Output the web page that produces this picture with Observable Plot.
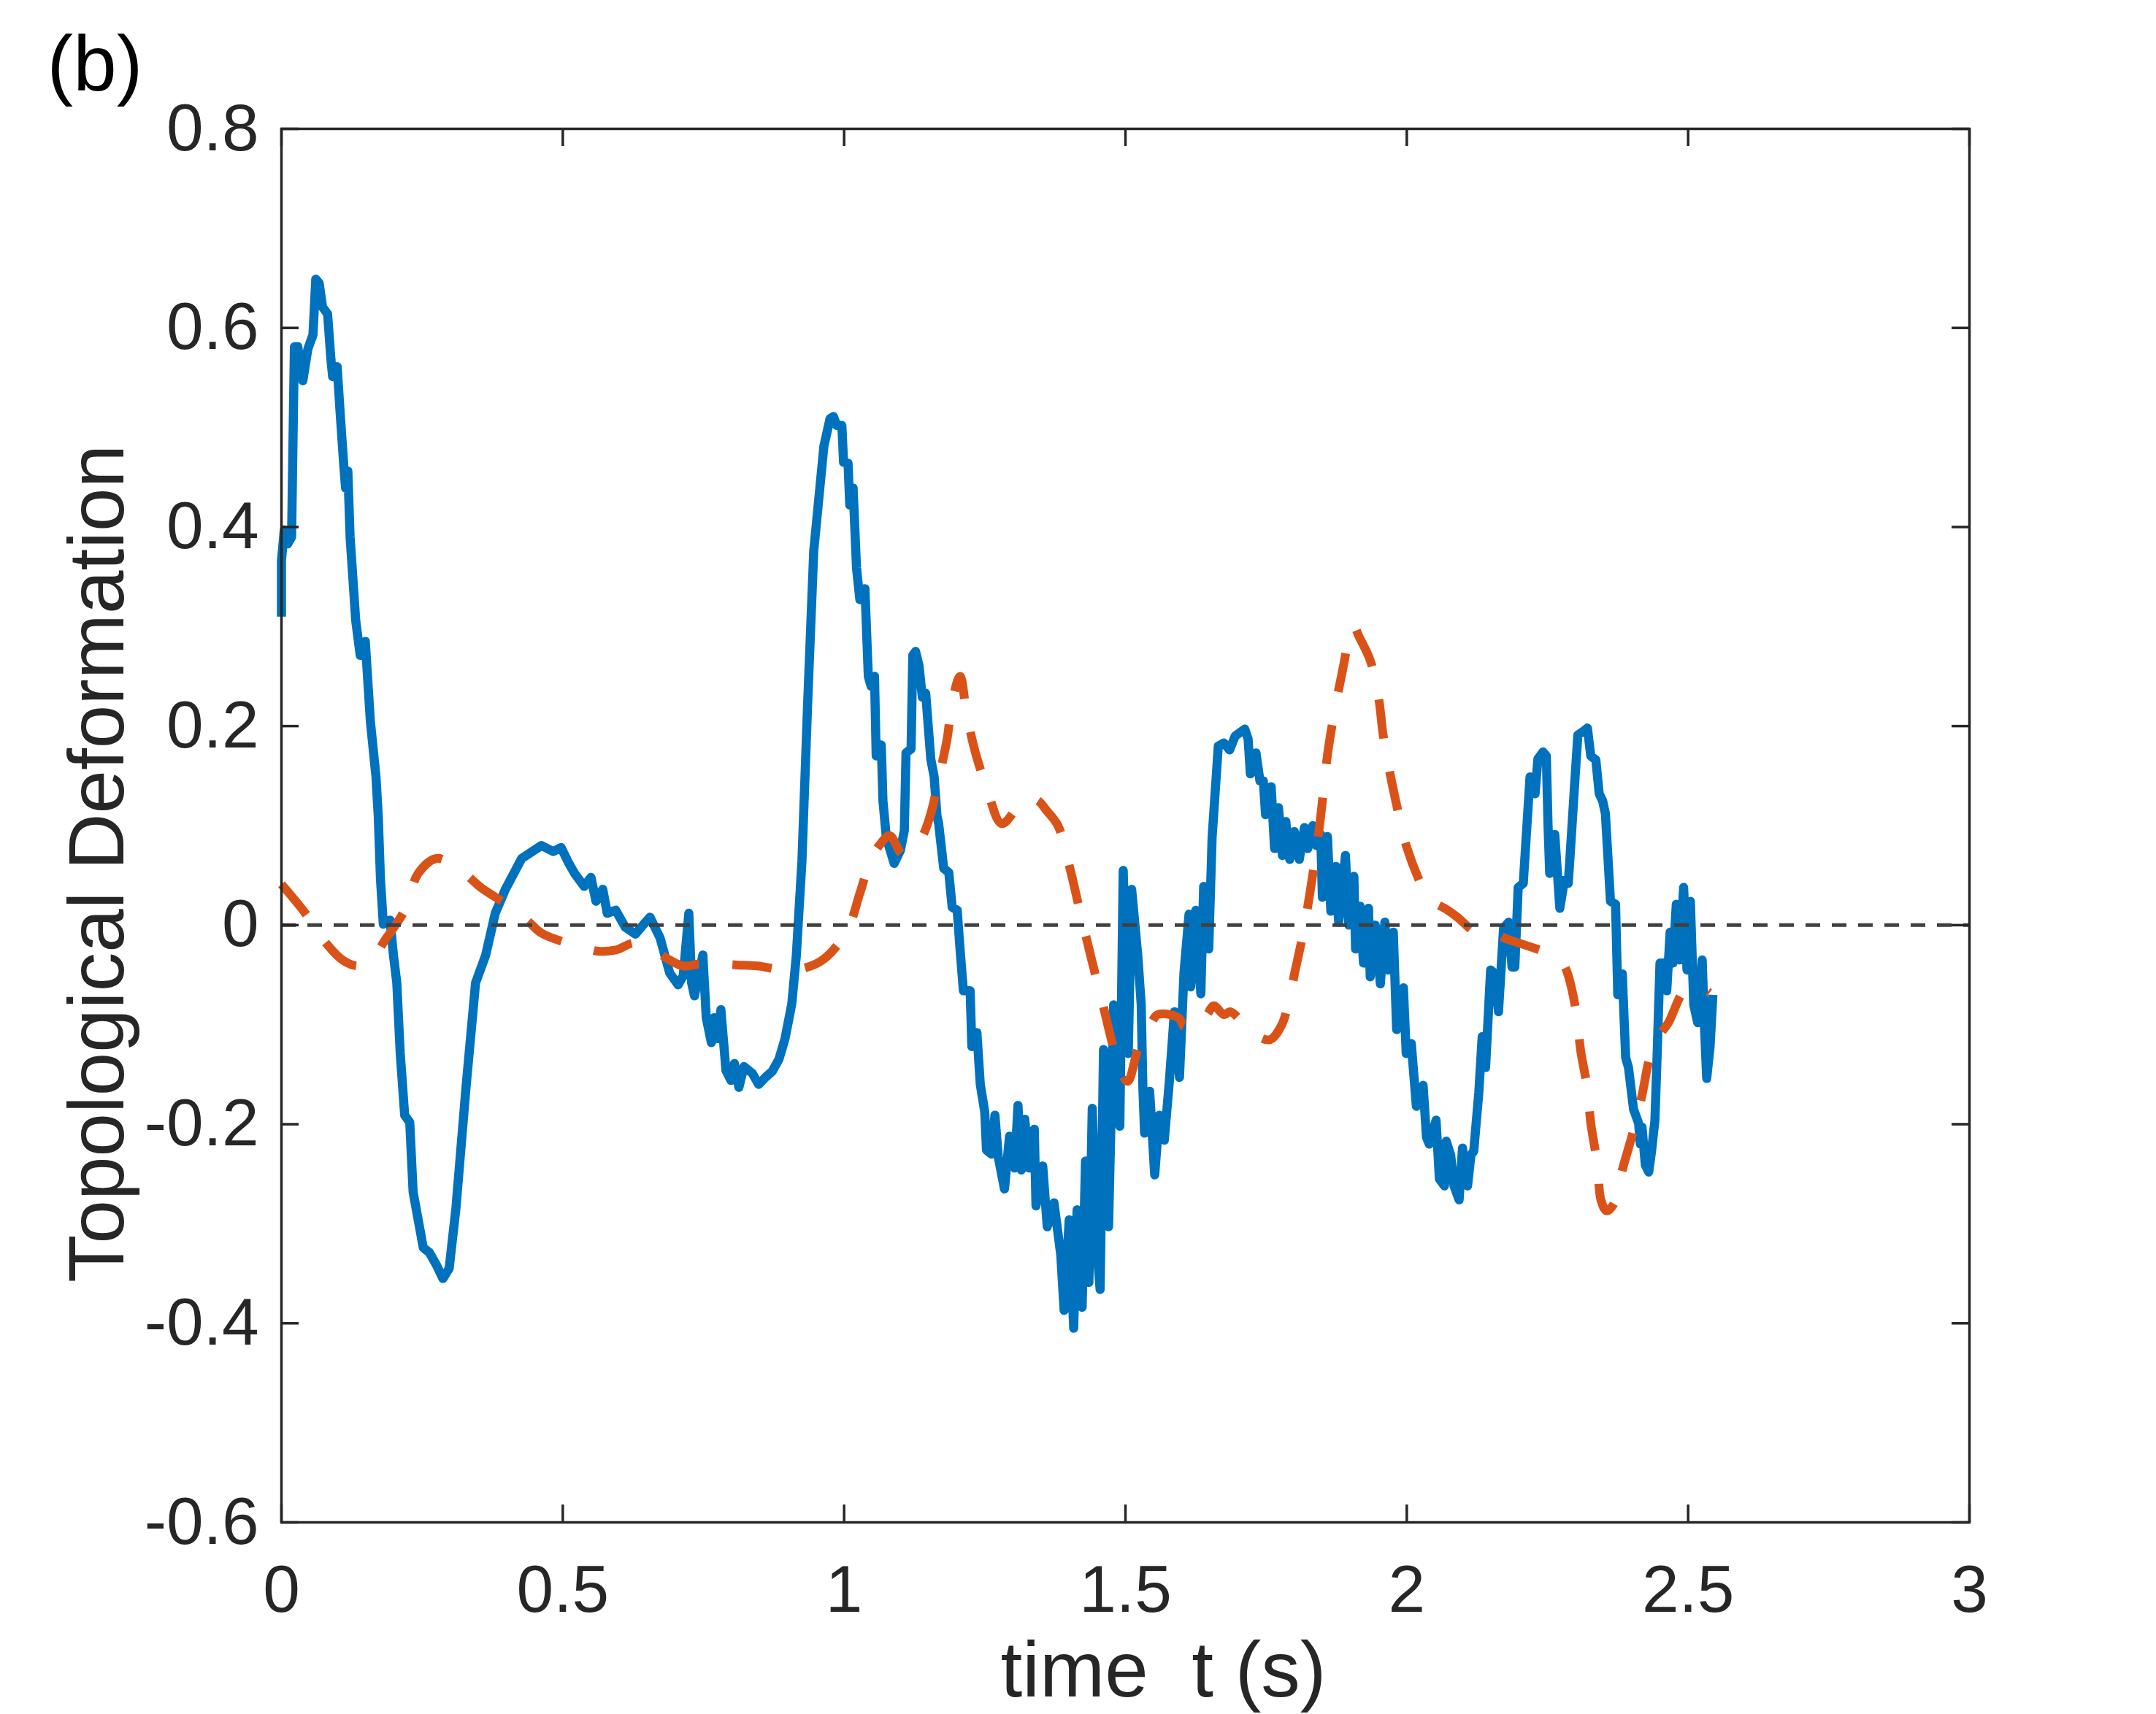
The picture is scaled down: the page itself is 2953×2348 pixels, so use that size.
<!DOCTYPE html>
<html>
<head>
<meta charset="utf-8">
<script src="https://cdn.jsdelivr.net/npm/d3@7"></script>
<script src="https://cdn.jsdelivr.net/npm/@observablehq/plot@0.6"></script>
<style>
  html, body { margin: 0; padding: 0; background: #ffffff; }
  #chart { width: 2953px; height: 2348px; }
</style>
</head>
<body>
<div id="chart"></div>
<script>
// ---- tick values and labels ----
const xTicks = [0, 0.5, 1, 1.5, 2, 2.5, 3];
const xTickLabels = ["0", "0.5", "1", "1.5", "2", "2.5", "3"];
const yTicks = [-0.6, -0.4, -0.2, 0, 0.2, 0.4, 0.6, 0.8];
const yTickLabels = ["-0.6", "-0.4", "-0.2", "0", "0.2", "0.4", "0.6", "0.8"];

// ---- series 1 (blue, solid) ----
const blueT = [
  0, 0, 0.005, 0.011, 0.018, 0.023, 0.029, 0.038, 0.047, 0.056, 0.061, 0.067, 0.073, 0.082, 0.088, 0.091,
  0.099, 0.105, 0.111, 0.114, 0.118, 0.122, 0.132, 0.140, 0.149, 0.158, 0.168, 0.172, 0.176, 0.181, 0.193,
  0.199, 0.205, 0.211, 0.219, 0.228, 0.234, 0.252, 0.263, 0.275, 0.287, 0.298, 0.310, 0.328, 0.345, 0.363,
  0.380, 0.398, 0.427, 0.462, 0.483, 0.497, 0.509, 0.521, 0.538, 0.550, 0.559, 0.571, 0.579, 0.594, 0.611,
  0.629, 0.644, 0.655, 0.673, 0.690, 0.705, 0.714, 0.724, 0.729, 0.734, 0.749, 0.755, 0.764, 0.769, 0.775,
  0.781, 0.790, 0.799, 0.805, 0.813, 0.822, 0.837, 0.848, 0.860, 0.872, 0.884, 0.895, 0.907, 0.915, 0.925,
  0.935, 0.946, 0.964, 0.975, 0.981, 0.987, 0.996, 0.999, 1.007, 1.010, 1.016, 1.022, 1.028, 1.037, 1.043,
  1.048, 1.054, 1.057, 1.066, 1.069, 1.075, 1.089, 1.100, 1.107, 1.110, 1.119, 1.122, 1.127, 1.133, 1.139,
  1.145, 1.154, 1.160, 1.165, 1.168, 1.177, 1.186, 1.192, 1.201, 1.206, 1.212, 1.224, 1.227, 1.236, 1.242,
  1.250, 1.253, 1.262, 1.268, 1.274, 1.285, 1.294, 1.303, 1.309, 1.315, 1.321, 1.329, 1.338, 1.341, 1.353,
  1.361, 1.373, 1.385, 1.391, 1.400, 1.408, 1.414, 1.423, 1.429, 1.435, 1.441, 1.449, 1.455, 1.461, 1.470,
  1.479, 1.490, 1.496, 1.505, 1.511, 1.522, 1.528, 1.531, 1.534, 1.543, 1.552, 1.560, 1.569, 1.578, 1.587,
  1.596, 1.604, 1.613, 1.616, 1.625, 1.634, 1.639, 1.648, 1.654, 1.665, 1.675, 1.685, 1.695, 1.712, 1.718,
  1.722, 1.732, 1.739, 1.745, 1.749, 1.759, 1.765, 1.772, 1.779, 1.785, 1.792, 1.800, 1.809, 1.818, 1.824,
  1.833, 1.839, 1.847, 1.850, 1.859, 1.865, 1.874, 1.879, 1.891, 1.897, 1.906, 1.909, 1.917, 1.923, 1.932,
  1.935, 1.944, 1.953, 1.961, 1.967, 1.976, 1.982, 1.994, 1.999, 2.008, 2.017, 2.029, 2.035, 2.040, 2.052,
  2.058, 2.067, 2.070, 2.078, 2.084, 2.093, 2.099, 2.108, 2.114, 2.119, 2.128, 2.134, 2.140, 2.149, 2.157,
  2.163, 2.172, 2.181, 2.187, 2.192, 2.198, 2.207, 2.219, 2.228, 2.233, 2.242, 2.248, 2.251, 2.254, 2.263,
  2.272, 2.280, 2.287, 2.293, 2.298, 2.304, 2.312, 2.321, 2.327, 2.336, 2.342, 2.348, 2.353, 2.362, 2.371,
  2.375, 2.383, 2.389, 2.394, 2.403, 2.412, 2.415, 2.418, 2.424, 2.430, 2.435, 2.441, 2.445, 2.450, 2.456,
  2.462, 2.468, 2.473, 2.479, 2.485, 2.492, 2.498, 2.504, 2.510, 2.517, 2.521, 2.525, 2.529, 2.533, 2.539,
  2.544
];
const blueV = [
  0.310, 0.366, 0.397, 0.383, 0.390, 0.581, 0.581, 0.547, 0.579, 0.593, 0.649, 0.645, 0.621, 0.614, 0.568, 0.551,
  0.561, 0.509, 0.460, 0.439, 0.456, 0.390, 0.306, 0.271, 0.285, 0.205, 0.149, 0.110, 0.046, 0.001, 0.005,
  -0.030, -0.058, -0.128, -0.191, -0.198, -0.268, -0.324, -0.329, -0.341, -0.355, -0.345, -0.285, -0.163, -0.058, -0.030,
  0.012, 0.036, 0.067, 0.080, 0.074, 0.078, 0.064, 0.052, 0.039, 0.048, 0.024, 0.036, 0.012, 0.015, -0.002,
  -0.009, 0.001, 0.008, -0.013, -0.048, -0.060, -0.051, 0.012, -0.058, -0.071, -0.030, -0.093, -0.118, -0.093, -0.114,
  -0.085, -0.146, -0.156, -0.139, -0.163, -0.142, -0.149, -0.160, -0.153, -0.147, -0.135, -0.114, -0.079, -0.031, 0.064,
  0.220, 0.376, 0.481, 0.509, 0.511, 0.502, 0.502, 0.465, 0.464, 0.422, 0.439, 0.359, 0.327, 0.338, 0.250,
  0.240, 0.250, 0.170, 0.181, 0.125, 0.088, 0.062, 0.075, 0.095, 0.173, 0.177, 0.271, 0.275, 0.261, 0.229,
  0.233, 0.167, 0.149, 0.110, 0.102, 0.057, 0.053, 0.018, 0.015, -0.024, -0.066, -0.066, -0.122, -0.108, -0.160,
  -0.188, -0.226, -0.230, -0.191, -0.233, -0.265, -0.212, -0.244, -0.181, -0.246, -0.195, -0.244, -0.205, -0.282, -0.242,
  -0.303, -0.279, -0.331, -0.387, -0.296, -0.405, -0.286, -0.384, -0.237, -0.359, -0.184, -0.324, -0.366, -0.125, -0.303,
  -0.080, -0.202, 0.055, -0.129, 0.036, -0.031, -0.080, -0.164, -0.209, -0.167, -0.251, -0.191, -0.216, -0.157, -0.087,
  -0.153, -0.048, 0.011, -0.062, 0.015, -0.069, 0.039, -0.024, 0.088, 0.180, 0.183, 0.176, 0.190, 0.197, 0.187,
  0.152, 0.173, 0.145, 0.145, 0.111, 0.139, 0.077, 0.118, 0.070, 0.104, 0.066, 0.094, 0.066, 0.098, 0.077,
  0.100, 0.080, 0.091, 0.028, 0.089, 0.014, 0.059, 0.003, 0.070, 0.000, 0.049, -0.024, 0.019, -0.038, 0.017,
  -0.052, 0.000, -0.059, 0.003, -0.045, -0.007, -0.105, -0.063, -0.129, -0.119, -0.182, -0.161, -0.213, -0.220, -0.196,
  -0.255, -0.262, -0.217, -0.231, -0.262, -0.276, -0.224, -0.262, -0.231, -0.227, -0.168, -0.112, -0.143, -0.045, -0.049,
  -0.087, -0.003, 0.003, -0.042, -0.042, 0.038, 0.042, 0.149, 0.132, 0.167, 0.174, 0.170, 0.101, 0.052, 0.091,
  0.017, 0.045, 0.042, 0.094, 0.139, 0.191, 0.194, 0.198, 0.170, 0.166, 0.132, 0.125, 0.112, 0.024, 0.021,
  -0.070, -0.049, -0.133, -0.143, -0.185, -0.199, -0.220, -0.203, -0.241, -0.248, -0.227, -0.196, -0.129, -0.038, -0.038,
  -0.066, -0.007, -0.038, 0.021, -0.035, 0.038, -0.045, 0.024, -0.080, -0.098, -0.066, -0.035, -0.101, -0.154, -0.122,
  -0.070
];

// ---- series 2 (orange, dashed) ----
const orangeT = [
  0, 0.041, 0.082, 0.111, 0.138, 0.160, 0.184, 0.219, 0.243, 0.275, 0.301, 0.330, 0.354, 0.410, 0.440, 0.462,
  0.497, 0.527, 0.560, 0.594, 0.626, 0.655, 0.690, 0.714, 0.743, 0.778, 0.810, 0.846, 0.895, 0.930, 0.964,
  1.005, 1.028, 1.048, 1.065, 1.081, 1.104, 1.124, 1.140, 1.154, 1.168, 1.183, 1.192, 1.206, 1.218, 1.233,
  1.253, 1.280, 1.308, 1.328, 1.345, 1.360, 1.380, 1.400, 1.420, 1.440, 1.460, 1.475, 1.490, 1.504, 1.522,
  1.540, 1.557, 1.580, 1.596, 1.604, 1.616, 1.631, 1.645, 1.657, 1.675, 1.686, 1.704, 1.730, 1.757, 1.777,
  1.789, 1.800, 1.815, 1.830, 1.845, 1.860, 1.875, 1.888, 1.900, 1.906, 1.915, 1.935, 1.950, 1.958, 1.970,
  1.985, 1.999, 2.026, 2.040, 2.070, 2.090, 2.116, 2.134, 2.157, 2.178, 2.210, 2.242, 2.263, 2.277, 2.286,
  2.301, 2.309, 2.321, 2.327, 2.339, 2.345, 2.355, 2.368, 2.383, 2.403, 2.418, 2.432, 2.450, 2.465, 2.494,
  2.514, 2.538
];
const orangeV = [
  0.041, 0.013, -0.020, -0.036, -0.041, -0.035, -0.015, 0.015, 0.052, 0.067, 0.062, 0.050, 0.038, 0.017, 0.003, -0.008,
  -0.016, -0.020, -0.026, -0.025, -0.018, -0.023, -0.035, -0.041, -0.039, -0.039, -0.040, -0.041, -0.045, -0.043, -0.034,
  -0.006, 0.032, 0.067, 0.082, 0.090, 0.071, 0.076, 0.090, 0.112, 0.147, 0.187, 0.224, 0.250, 0.212, 0.174,
  0.139, 0.102, 0.118, 0.128, 0.125, 0.115, 0.100, 0.060, 0.012, -0.035, -0.080, -0.115, -0.145, -0.157, -0.125,
  -0.105, -0.090, -0.090, -0.094, -0.102, -0.095, -0.099, -0.090, -0.081, -0.090, -0.087, -0.095, -0.110, -0.115, -0.101,
  -0.080, -0.050, -0.010, 0.040, 0.100, 0.175, 0.225, 0.262, 0.296, 0.300, 0.290, 0.266, 0.228, 0.191, 0.153,
  0.113, 0.080, 0.040, 0.026, 0.016, 0.008, -0.005, -0.010, -0.009, -0.014, -0.020, -0.026, -0.030, -0.038, -0.049,
  -0.087, -0.126, -0.164, -0.199, -0.241, -0.276, -0.287, -0.280, -0.246, -0.206, -0.171, -0.133, -0.110, -0.098, -0.065,
  -0.061, -0.068
];

// ---- layout ----
const W = 2953, H = 2348;
const mL = 385, mR = 256, mT = 176, mB = 263;
const pw = W - mL - mR, ph = H - mT - mB;
const tickLen = 24;
const axisColor = "#262626";

const blue = blueT.map((t, i) => ({t, v: blueV[i]}));
const orange = orangeT.map((t, i) => ({t, v: orangeV[i]}));

const chart = Plot.plot({
  width: W,
  height: H,
  marginLeft: mL,
  marginRight: mR,
  marginTop: mT,
  marginBottom: mB,
  style: {
    fontFamily: "'Liberation Sans', Arial, Helvetica, sans-serif",
    background: "#ffffff",
    color: axisColor,
    overflow: "visible"
  },
  x: {domain: [0, 3]},
  y: {domain: [-0.6, 0.8]},
  marks: [
    Plot.line(blue, {x: "t", y: "v", stroke: "#0072BD", strokeWidth: 12.5, strokeLinejoin: "round", strokeLinecap: "butt"}),
    Plot.line(orange, {x: "t", y: "v", stroke: "#D95319", strokeWidth: 12, strokeDasharray: "54,46", strokeLinecap: "butt", curve: "catmull-rom"}),
    Plot.ruleY([0], {stroke: "#404040", strokeWidth: 5, strokeDasharray: "20,16"}),
    Plot.frame({stroke: axisColor, strokeWidth: 3.5}),
    Plot.tickY(yTicks, {y: d => d, stroke: axisColor, strokeWidth: 3.5, insetRight: pw - tickLen}),
    Plot.tickY(yTicks, {y: d => d, stroke: axisColor, strokeWidth: 3.5, insetLeft: pw - tickLen}),
    Plot.tickX(xTicks, {x: d => d, stroke: axisColor, strokeWidth: 3.5, insetTop: ph - tickLen}),
    Plot.tickX(xTicks, {x: d => d, stroke: axisColor, strokeWidth: 3.5, insetBottom: ph - tickLen}),
    Plot.axisX({ticks: xTicks, tickFormat: d => xTickLabels[xTicks.indexOf(d)], tickSize: 0, tickPadding: 58, fontSize: 91, color: axisColor, label: null}),
    Plot.axisY({ticks: yTicks, tickFormat: d => yTickLabels[yTicks.indexOf(d)], tickSize: 0, tickPadding: 31, fontSize: 91, color: axisColor, label: null}),
    Plot.text(["time\u00a0 t (s)"], {frameAnchor: "bottom", dx: 52, dy: 238, lineAnchor: "bottom", textAnchor: "middle", fontSize: 107, fill: axisColor}),
    Plot.text(["Topological Deformation"], {frameAnchor: "left", rotate: -90, dx: -217, dy: 52, lineAnchor: "bottom", textAnchor: "middle", fontSize: 107, fill: axisColor}),
    Plot.text(["(b)"], {frameAnchor: "top-left", dx: 64 - mL, dy: 123 - mT, lineAnchor: "bottom", textAnchor: "start", fontSize: 107, fill: "#000000"})
  ]
});

document.getElementById("chart").appendChild(chart);
</script>
</body>
</html>
